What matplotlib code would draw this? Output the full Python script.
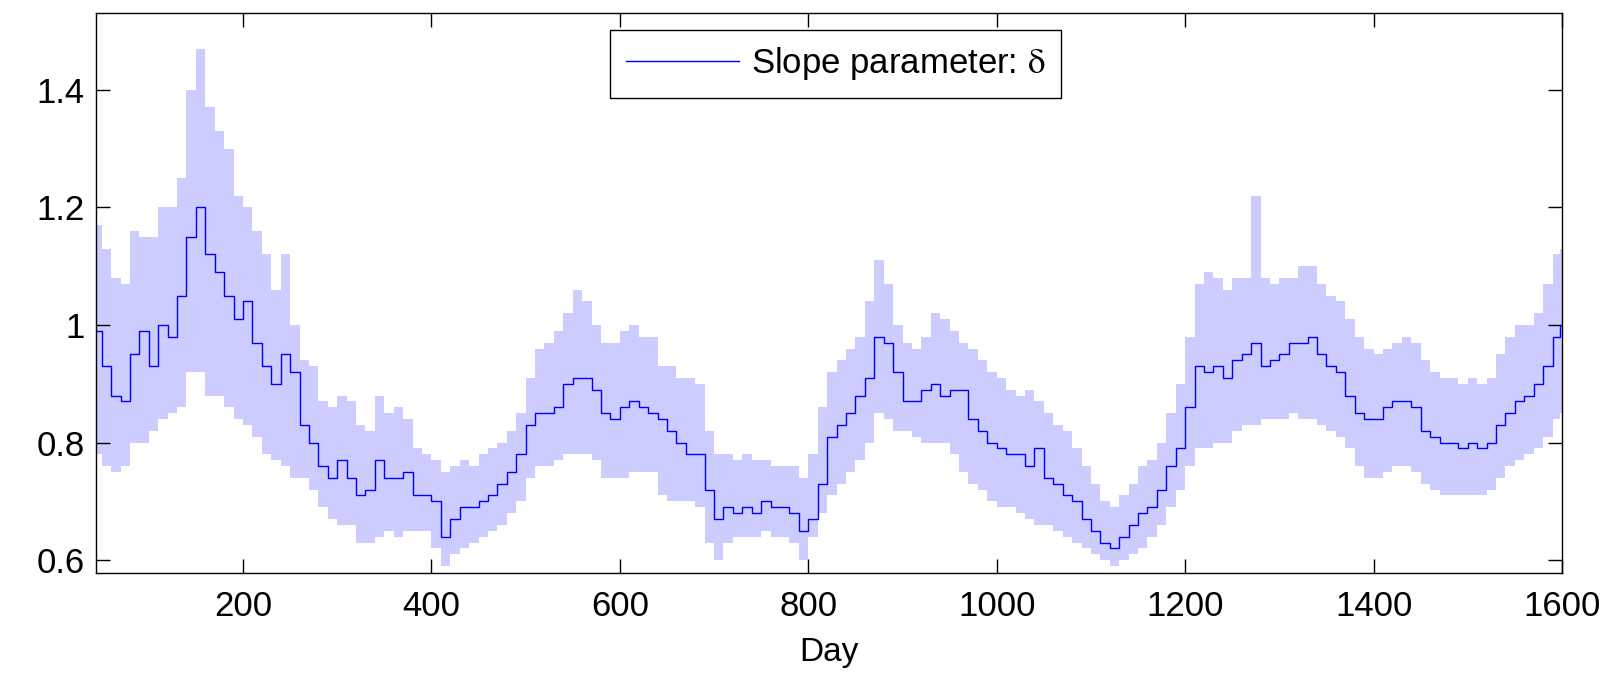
import numpy as np
import matplotlib
matplotlib.use("Agg")
import matplotlib.pyplot as plt

plt.rcParams['font.family'] = ['Liberation Sans', 'DejaVu Sans']
plt.rcParams['mathtext.fontset'] = 'stix'

# day grid (every 10 days, plus the last day) and values
days = list(range(45, 1600, 10)) + [1600]

# slope parameter (blue line)
slope = [0.99, 0.93, 0.88, 0.87, 0.95, 0.99, 0.93, 1.00, 0.98, 1.05,
         1.15, 1.20, 1.12, 1.09, 1.05, 1.01, 1.04, 0.97, 0.93, 0.90,
         0.95, 0.92, 0.83, 0.80, 0.76, 0.74, 0.77, 0.74, 0.71, 0.72,
         0.77, 0.74, 0.74, 0.75, 0.71, 0.71, 0.70, 0.64, 0.67, 0.69,
         0.69, 0.70, 0.71, 0.73, 0.75, 0.78, 0.83, 0.85, 0.85, 0.86,
         0.90, 0.91, 0.91, 0.89, 0.85, 0.84, 0.86, 0.87, 0.86, 0.85,
         0.84, 0.82, 0.80, 0.78, 0.78, 0.72, 0.67, 0.69, 0.68, 0.69,
         0.68, 0.70, 0.69, 0.69, 0.68, 0.65, 0.67, 0.73, 0.81, 0.83,
         0.85, 0.88, 0.91, 0.98, 0.97, 0.92, 0.87, 0.87, 0.89, 0.90,
         0.88, 0.89, 0.89, 0.84, 0.82, 0.80, 0.79, 0.78, 0.78, 0.76,
         0.79, 0.74, 0.73, 0.71, 0.70, 0.67, 0.65, 0.63, 0.62, 0.64,
         0.66, 0.68, 0.69, 0.72, 0.76, 0.79, 0.86, 0.93, 0.92, 0.93,
         0.91, 0.94, 0.95, 0.97, 0.93, 0.94, 0.95, 0.97, 0.97, 0.98,
         0.95, 0.93, 0.92, 0.88, 0.85, 0.84, 0.84, 0.86, 0.87, 0.87,
         0.86, 0.82, 0.81, 0.80, 0.80, 0.79, 0.80, 0.79, 0.80, 0.83,
         0.85, 0.87, 0.88, 0.90, 0.93, 0.98, 1.00]

# upper edge of shaded band
upper = [1.17, 1.13, 1.08, 1.07, 1.16, 1.15, 1.15, 1.20, 1.20, 1.25,
         1.40, 1.47, 1.37, 1.33, 1.30, 1.22, 1.20, 1.16, 1.12, 1.06,
         1.12, 1.00, 0.94, 0.93, 0.87, 0.86, 0.88, 0.87, 0.83, 0.82,
         0.88, 0.85, 0.86, 0.84, 0.79, 0.78, 0.77, 0.75, 0.76, 0.77,
         0.76, 0.78, 0.79, 0.80, 0.82, 0.85, 0.91, 0.96, 0.97, 0.99,
         1.02, 1.06, 1.04, 1.00, 0.97, 0.97, 0.99, 1.00, 0.98, 0.98,
         0.93, 0.93, 0.91, 0.91, 0.90, 0.82, 0.78, 0.78, 0.77, 0.78,
         0.77, 0.77, 0.76, 0.76, 0.76, 0.74, 0.78, 0.86, 0.92, 0.94,
         0.96, 0.98, 1.04, 1.11, 1.07, 1.00, 0.97, 0.96, 0.98, 1.02,
         1.01, 0.99, 0.97, 0.96, 0.94, 0.92, 0.91, 0.89, 0.88, 0.89,
         0.87, 0.85, 0.83, 0.82, 0.79, 0.76, 0.73, 0.70, 0.69, 0.71,
         0.73, 0.76, 0.77, 0.80, 0.85, 0.90, 0.98, 1.07, 1.09, 1.08,
         1.06, 1.08, 1.08, 1.22, 1.08, 1.07, 1.08, 1.08, 1.10, 1.10,
         1.07, 1.05, 1.04, 1.01, 0.98, 0.96, 0.95, 0.96, 0.97, 0.98,
         0.97, 0.94, 0.92, 0.91, 0.91, 0.90, 0.91, 0.90, 0.91, 0.95,
         0.98, 1.00, 1.00, 1.02, 1.07, 1.12, 1.13]

# lower edge of shaded band
lower = [0.78, 0.76, 0.75, 0.76, 0.80, 0.80, 0.82, 0.84, 0.85, 0.86,
         0.92, 0.92, 0.88, 0.88, 0.86, 0.84, 0.83, 0.81, 0.78, 0.77,
         0.76, 0.74, 0.74, 0.72, 0.69, 0.67, 0.66, 0.66, 0.63, 0.63,
         0.64, 0.65, 0.64, 0.65, 0.65, 0.65, 0.62, 0.59, 0.61, 0.62,
         0.63, 0.64, 0.65, 0.66, 0.68, 0.70, 0.74, 0.76, 0.76, 0.77,
         0.78, 0.78, 0.78, 0.77, 0.74, 0.74, 0.74, 0.75, 0.75, 0.75,
         0.71, 0.70, 0.70, 0.70, 0.69, 0.63, 0.60, 0.63, 0.64, 0.64,
         0.64, 0.65, 0.64, 0.64, 0.63, 0.60, 0.64, 0.68, 0.71, 0.73,
         0.75, 0.77, 0.80, 0.85, 0.84, 0.82, 0.82, 0.81, 0.80, 0.80,
         0.80, 0.78, 0.75, 0.73, 0.72, 0.70, 0.69, 0.69, 0.68, 0.67,
         0.66, 0.66, 0.65, 0.64, 0.63, 0.62, 0.61, 0.60, 0.59, 0.60,
         0.61, 0.62, 0.64, 0.66, 0.69, 0.72, 0.76, 0.79, 0.79, 0.80,
         0.80, 0.82, 0.83, 0.83, 0.84, 0.84, 0.84, 0.85, 0.84, 0.84,
         0.83, 0.82, 0.81, 0.79, 0.76, 0.74, 0.74, 0.75, 0.76, 0.76,
         0.75, 0.73, 0.72, 0.71, 0.71, 0.71, 0.71, 0.71, 0.72, 0.74,
         0.76, 0.77, 0.78, 0.79, 0.81, 0.84, 0.85]

xticks = [200, 400, 600, 800, 1000, 1200, 1400, 1600]
yticks = [0.6, 0.8, 1.0, 1.2, 1.4]
ylabels = ['0.6', '0.8', '1', '1.2', '1.4']

fig = plt.figure(figsize=(16.06, 6.75), dpi=100)
ax = fig.add_axes([0.0598, 0.151, 0.9128, 0.830])

ax.fill_between(days, lower, upper, step='mid', color='#ccccff', linewidth=0)
ax.plot(days, slope, color='#0000ff', linewidth=1.0, drawstyle='steps-mid',
        label=r'Slope parameter: $\mathrm{\delta}$')

ax.set_xlim(44, 1600)
ax.set_ylim(0.578, 1.531)
ax.set_xticks(xticks)
ax.set_yticks(yticks)
ax.set_yticklabels(ylabels)
ax.tick_params(direction='in', length=10, width=1, top=True, right=True,
               labelsize=25)
ax.tick_params(axis='x', pad=12)
ax.tick_params(axis='y', pad=8)
for s in ax.spines.values():
    s.set_linewidth(1.0)

ax.set_xlabel('Day', fontsize=24, labelpad=10)

leg = ax.legend(loc='upper center', bbox_to_anchor=(0.5045, 0.970),
                borderaxespad=0, fontsize=25, handlelength=3.25,
                handletextpad=0.35, borderpad=0.45, fancybox=False,
                framealpha=1, edgecolor='black')
leg.get_frame().set_linewidth(1.0)

fig.savefig('out.png', dpi=100)
